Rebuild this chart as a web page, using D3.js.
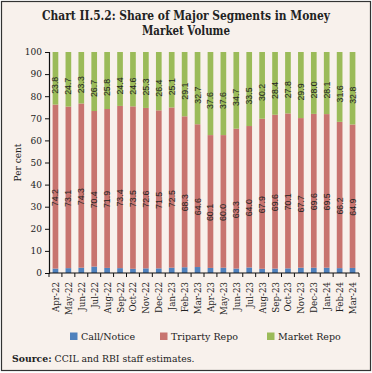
<!DOCTYPE html>
<html><head><meta charset="utf-8">
<script src="https://cdn.jsdelivr.net/npm/d3@7"></script>
<style>body{margin:0;background:#fff}svg{display:block}</style>
</head><body>
<script>
const months = ["Apr-22","May-22","Jun-22","Jul-22","Aug-22","Sep-22","Oct-22","Nov-22","Dec-22","Jan-23","Feb-23","Mar-23","Apr-23","May-23","Jun-23","Jul-23","Aug-23","Sep-23","Oct-23","Nov-23","Dec-23","Jan-24","Feb-24","Mar-24"];
const callNotice = [2.0,2.2,2.4,2.9,2.3,2.2,1.9,2.1,2.1,2.4,2.6,2.7,2.3,2.4,2.0,2.5,1.9,2.0,2.1,2.4,2.4,2.4,2.2,2.3];
const triparty = [74.2,73.1,74.3,70.4,71.9,73.4,73.5,72.6,71.5,72.5,68.3,64.6,60.1,60.0,63.3,64.0,67.9,69.6,70.1,67.7,69.6,69.5,66.2,64.9];
const marketRepo = [23.8,24.7,23.3,26.7,25.8,24.4,24.6,25.3,26.4,25.1,29.1,32.7,37.6,37.6,34.7,33.5,30.2,28.4,27.8,29.9,28.0,28.1,31.6,32.8];
const yTicks = [0,10,20,30,40,50,60,70,80,90,100];
const seriesNames = ["Call/Notice","Triparty Repo","Market Repo"];
const colors = ["#4f81bd","#c8746f","#9bbb59"];

const W=372,H=373;
const svg=d3.select("body").append("svg").attr("width",W).attr("height",H);
svg.append("rect").attr("x",1.5).attr("y",1.5).attr("width",W-3).attr("height",H-4)
  .attr("fill","#f8f1ec").attr("stroke","#333").attr("stroke-width",1.2);

const serif="'DejaVu Serif', 'Liberation Serif', serif";
svg.append("text").attr("x",186).attr("y",20).attr("text-anchor","middle")
  .attr("font-family",serif).attr("font-weight","bold").attr("font-size",12).attr("fill","#222")
  .attr("textLength",288).attr("lengthAdjust","spacingAndGlyphs")
  .text("Chart II.5.2: Share of Major Segments in Money");
svg.append("text").attr("x",186).attr("y",35).attr("text-anchor","middle")
  .attr("font-family",serif).attr("font-weight","bold").attr("font-size",12).attr("fill","#222")
  .attr("textLength",88).attr("lengthAdjust","spacingAndGlyphs")
  .text("Market Volume");

const x0=49,x1=359,yTop=52,yBot=273;
const x=d3.scaleBand().domain(months).range([x0,x1]).paddingInner(0.56).paddingOuter(0.28);
const y=d3.scaleLinear().domain([0,100]).range([yBot,yTop]);

const data=months.map((m,i)=>({m,c:callNotice[i],t:triparty[i],r:marketRepo[i]}));
const stack=d3.stack().keys(["c","t","r"])(data);

const g=svg.append("g");
stack.forEach((s,si)=>{
  g.selectAll(null).data(s).enter().append("rect")
   .attr("x",d=>x(d.data.m)).attr("width",x.bandwidth())
   .attr("y",d=>y(d[1])).attr("height",d=>y(d[0])-y(d[1]))
   .attr("fill",colors[si]);
});
// value labels
const sans="'Liberation Sans', Arial, sans-serif";
[[1,11],[2,7]].forEach(([si,off])=>{
  g.selectAll(null).data(stack[si]).enter().append("text")
   .attr("transform",d=>{const cx=x(d.data.m)+x.bandwidth()/2;const cy=(y(d[0])+y(d[1]))/2+off;return `translate(${cx+3},${cy}) rotate(-90)`;})
   .attr("text-anchor","middle").attr("font-family",sans).attr("font-size",8.8).attr("fill","#222")
   .text(d=>(d[1]-d[0]).toFixed(1));
});

// axes
const yAxis=d3.axisLeft(y).tickValues(yTicks).tickSize(4).tickPadding(3);
const ya=svg.append("g").attr("transform",`translate(${x0},0)`).call(yAxis);
ya.select(".domain").attr("stroke","#111").attr("stroke-width",1.2);
ya.selectAll(".tick line").attr("stroke","#111");
ya.selectAll("text").attr("font-family",serif).attr("font-size",9).attr("fill","#222");

// x axis line + ticks between bars
const xa=svg.append("g");
xa.append("line").attr("x1",x0).attr("x2",x1).attr("y1",yBot).attr("y2",yBot).attr("stroke","#111").attr("stroke-width",1.2);
xa.selectAll(null).data(d3.range(months.length+1)).enter().append("line")
  .attr("x1",i=>x0+i*(x1-x0)/months.length).attr("x2",i=>x0+i*(x1-x0)/months.length)
  .attr("y1",yBot).attr("y2",yBot+4).attr("stroke","#111");
xa.selectAll(null).data(months).enter().append("text")
  .attr("transform",m=>`translate(${x(m)+x.bandwidth()/2+3.5},${yBot+9}) rotate(-90)`)
  .attr("text-anchor","end").attr("font-family",serif).attr("font-size",8.7).attr("fill","#222")
  .text(m=>m);

svg.append("text").attr("transform",`translate(21,${(yTop+yBot)/2}) rotate(-90)`)
  .attr("text-anchor","middle").attr("font-family",serif).attr("font-size",9).attr("fill","#222").text("Per cent");

// legend
const legX=[70,160,267];
seriesNames.forEach((n,i)=>{
  svg.append("rect").attr("x",legX[i]).attr("y",332.5).attr("width",7.5).attr("height",7.5).attr("fill",colors[i]);
  svg.append("text").attr("x",legX[i]+11).attr("y",340).attr("font-family",serif).attr("font-size",9.5).attr("fill","#222").text(n);
});

// source
const src=svg.append("text").attr("x",12).attr("y",362).attr("font-family",serif).attr("font-size",9.3).attr("fill","#222");
src.append("tspan").attr("font-weight","bold").text("Source:");
src.append("tspan").text(" CCIL and RBI staff estimates.");
</script>
</body></html>
